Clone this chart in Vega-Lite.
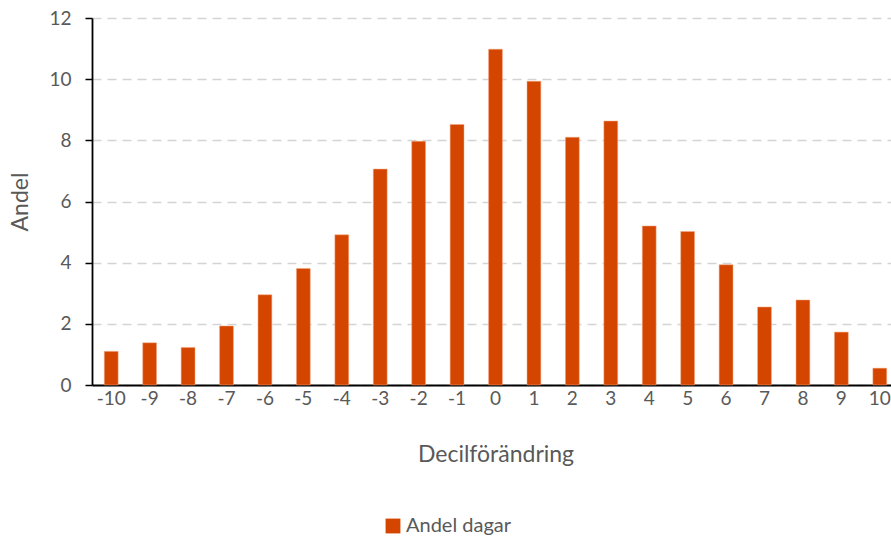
{
  "$schema": "https://vega.github.io/schema/vega-lite/v6.json",
  "width": 807,
  "height": 367,
  "autosize": {"type": "none"},
  "padding": {"left": 92, "top": 18, "right": 0, "bottom": 153},
  "background": "white",
  "config": {
    "view": {"stroke": null},
    "font": "Lato",
    "axis": {"labelFont": "Lato", "titleFont": "Lato", "labelColor": "#595959", "titleColor": "#595959", "titleFontWeight": "normal"}
  },
  "data": {
    "values": [
      {"decil": "-10", "andel": 1.1, "serie": "Andel dagar"},
      {"decil": "-9", "andel": 1.38, "serie": "Andel dagar"},
      {"decil": "-8", "andel": 1.23, "serie": "Andel dagar"},
      {"decil": "-7", "andel": 1.93, "serie": "Andel dagar"},
      {"decil": "-6", "andel": 2.95, "serie": "Andel dagar"},
      {"decil": "-5", "andel": 3.81, "serie": "Andel dagar"},
      {"decil": "-4", "andel": 4.91, "serie": "Andel dagar"},
      {"decil": "-3", "andel": 7.06, "serie": "Andel dagar"},
      {"decil": "-2", "andel": 7.97, "serie": "Andel dagar"},
      {"decil": "-1", "andel": 8.52, "serie": "Andel dagar"},
      {"decil": "0", "andel": 10.98, "serie": "Andel dagar"},
      {"decil": "1", "andel": 9.93, "serie": "Andel dagar"},
      {"decil": "2", "andel": 8.1, "serie": "Andel dagar"},
      {"decil": "3", "andel": 8.63, "serie": "Andel dagar"},
      {"decil": "4", "andel": 5.2, "serie": "Andel dagar"},
      {"decil": "5", "andel": 5.02, "serie": "Andel dagar"},
      {"decil": "6", "andel": 3.93, "serie": "Andel dagar"},
      {"decil": "7", "andel": 2.55, "serie": "Andel dagar"},
      {"decil": "8", "andel": 2.78, "serie": "Andel dagar"},
      {"decil": "9", "andel": 1.73, "serie": "Andel dagar"},
      {"decil": "10", "andel": 0.55, "serie": "Andel dagar"}
    ]
  },
  "mark": {"type": "bar", "stroke": "#F4A67E", "strokeWidth": 0.5},
  "encoding": {
    "x": {
      "field": "decil",
      "type": "ordinal",
      "sort": null,
      "scale": {"paddingInner": 0.64, "paddingOuter": 0.32},
      "axis": {
        "title": "Decilförändring",
        "titleFontSize": 23,
        "titlePadding": 35,
        "labelFontSize": 19,
        "labelAngle": 0,
        "labelPadding": 4,
        "ticks": false,
        "domain": true,
        "domainColor": "#000000",
        "domainWidth": 1.8,
        "grid": false
      }
    },
    "y": {
      "field": "andel",
      "type": "quantitative",
      "scale": {"domain": [0, 12], "nice": false},
      "axis": {
        "title": "Andel",
        "titleFontSize": 23,
        "titlePadding": 16,
        "labelFontSize": 19,
        "labelPadding": 14,
        "values": [0, 2, 4, 6, 8, 10, 12],
        "tickSize": 7,
        "tickColor": "#000000",
        "tickWidth": 1.5,
        "domainColor": "#000000",
        "domainWidth": 1.8,
        "grid": true,
        "gridColor": "#d4d4d4",
        "gridWidth": 1.5,
        "gridDash": [9, 6]
      }
    },
    "color": {
      "field": "serie",
      "type": "nominal",
      "scale": {"range": ["#D44600"]},
      "legend": {
        "title": null,
        "orient": "none",
        "legendX": 291,
        "legendY": 498,
        "symbolType": "square",
        "symbolSize": 220,
        "symbolStrokeWidth": 0,
        "labelFontSize": 20,
        "labelColor": "#595959",
        "labelFont": "Lato",
        "labelOffset": 3
      }
    }
  }
}
